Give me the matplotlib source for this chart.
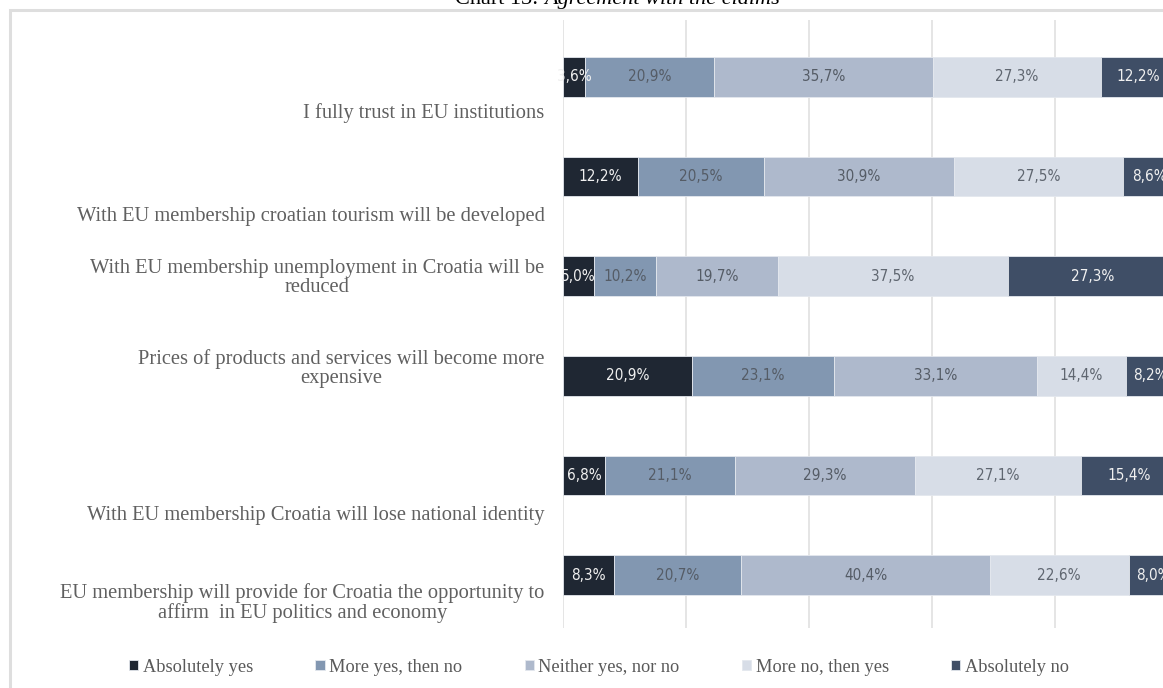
import matplotlib
matplotlib.use("Agg")
import matplotlib.pyplot as plt
from matplotlib.patches import Rectangle
import numpy as np

# --- data (top to bottom, as in the chart) ---
claims = [
    "I fully trust in EU institutions",
    "With EU membership croatian tourism will be developed",
    "With EU membership unemployment in Croatia will be\nreduced",
    "Prices of products and services will become more\nexpensive",
    "With EU membership Croatia will lose national identity",
    "EU membership will provide for Croatia the opportunity to\naffirm  in EU politics and economy",
]
answers = ["Absolutely yes", "More yes, then no", "Neither yes, nor no",
           "More no, then yes", "Absolutely no"]
absolutely_yes = [3.6, 12.2, 5.0, 20.9, 6.8, 8.3]
more_yes = [20.9, 20.5, 10.2, 23.1, 21.1, 20.7]
neither = [35.7, 30.9, 19.7, 33.1, 29.3, 40.4]
more_no = [27.3, 27.5, 37.5, 14.4, 27.1, 22.6]
absolutely_no = [12.2, 8.6, 27.3, 8.2, 15.4, 8.0]
series = [absolutely_yes, more_yes, neither, more_no, absolutely_no]

colors = ["#1f2733", "#8297b1", "#aeb9cc", "#d7dde7", "#3f4e66"]
label_colors = ["#f0f0f0", "#555c66", "#555c66", "#5f6670", "#f0f0f0"]
# where the category text sits relative to its bar (the source is a bit sloppy)
label_shift = [0.36, 0.40, 0.02, -0.07, 0.40, 0.28]

W, H = 1163, 688
fig = plt.figure(figsize=(W / 100, H / 100), dpi=100)
ax = fig.add_axes([563 / W, 1 - 628 / H, 615 / W, 608 / H])

y = np.arange(len(claims))
left = np.zeros(len(claims))
for vals, name, c, lc in zip(series, answers, colors, label_colors):
    vals = np.array(vals)
    ax.barh(y, vals, left=left, height=0.40, color=c, label=name,
            edgecolor="#e4e8ee", linewidth=0.6, zorder=3)
    for yi, l, v in zip(y, left, vals):
        ax.text(l + v / 2, yi, f"{v:.1f}%".replace(".", ","), ha="center",
                va="center", color=lc, fontsize=11, zorder=4,
                family="DejaVu Sans", fontstretch="condensed")
    left += vals

ax.set_xlim(0, 100)
ax.set_ylim(5.53, -0.57)
ax.set_xticks([0, 20, 40, 60, 80, 100])
ax.xaxis.grid(True, color="#e3e3e3", linewidth=1.3, zorder=0)
ax.tick_params(left=False, bottom=False, labelbottom=False, labelleft=False)
for s in ax.spines.values():
    s.set_visible(False)

for yi, txt, sh in zip(y, claims, label_shift):
    ax.text(-3.0, yi + sh, txt, ha="right", va="center", multialignment="center",
            fontsize=14.8, color="#606060", family="Liberation Serif",
            linespacing=1.0)

fig.legend(loc="center", bbox_to_anchor=(599 / W, 1 - 667 / H), ncol=5,
           frameon=False, handlelength=0.5, handleheight=0.5, handletextpad=0.25,
           columnspacing=3.4, prop={"family": "Liberation Serif", "size": 13.2},
           labelcolor="#595959")

# chart frame, cut off on the right and bottom like the source
fig.patches.append(Rectangle((9.5 / W, -0.2), 2.0, 1.2 - 9.5 / H, fill=False,
                             edgecolor="#dedede", linewidth=2.2,
                             transform=fig.transFigure, figure=fig))

# title, mostly cut off at the top edge
t = fig.text(455 / W, 1 - 4 / H, "Chart 13: ", ha="left", va="baseline",
             fontsize=16, family="Liberation Serif", color="black")
ax.annotate("Agreement with the claims", xy=(1, 0), xycoords=t, ha="left",
            va="bottom", fontsize=16, family="Liberation Serif", style="italic",
            color="black", annotation_clip=False)

fig.savefig("out.png", dpi=100)
